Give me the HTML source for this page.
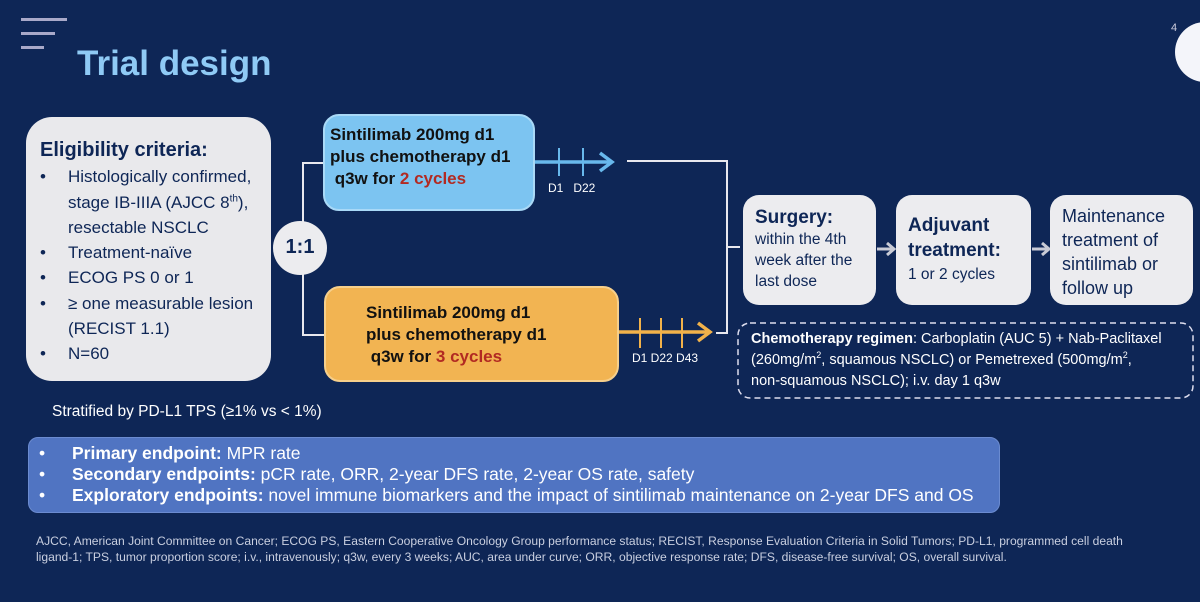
<!DOCTYPE html>
<html><head><meta charset="utf-8"><style>
*{margin:0;padding:0;box-sizing:border-box}
body{width:1200px;height:602px;background:#0e2656;font-family:"Liberation Sans",Arial,sans-serif;position:relative;overflow:hidden;color:#fff}
.a{position:absolute}
.box{position:absolute;border-radius:22px;background:#ececef;color:#0e2656}
.b{font-weight:bold}
sup{line-height:0;vertical-align:super}
</style></head><body>
<div class="a" style="left:21px;top:18px;width:46px;height:3px;background:#a9a9c9"></div>
<div class="a" style="left:21px;top:32px;width:34px;height:3px;background:#a9a9c9"></div>
<div class="a" style="left:21px;top:46px;width:23px;height:3px;background:#a9a9c9"></div>
<div class="a b" style="left:77px;top:44px;font-size:35px;color:#8fcaf5">Trial design</div>
<div class="a" style="left:1171px;top:22px;font-size:11px;color:#ccd">4</div>
<div class="a" style="left:1175px;top:22px;width:60px;height:60px;border-radius:50%;background:#f4f5fa"></div>

<div class="box" style="left:26px;top:117px;width:245px;height:264px;border-radius:26px;background:#e9e9ec;padding:21px 0 0 14px;font-size:17px;line-height:25.3px;color:#0e2656">
<div class="b" style="font-size:20px;margin-bottom:1px">Eligibility criteria:</div>
<div style="position:relative;padding-left:28px">
<span style="position:absolute;left:0">•</span>Histologically confirmed, stage IB-IIIA (AJCC 8<sup style="font-size:10px">th</sup>), resectable NSCLC</div>
<div style="position:relative;padding-left:28px"><span style="position:absolute;left:0">•</span>Treatment-naïve</div>
<div style="position:relative;padding-left:28px"><span style="position:absolute;left:0">•</span>ECOG PS 0 or 1</div>
<div style="position:relative;padding-left:28px"><span style="position:absolute;left:0">•</span>≥ one measurable lesion (RECIST 1.1)</div>
<div style="position:relative;padding-left:28px"><span style="position:absolute;left:0">•</span>N=60</div>
</div>

<svg class="a" style="left:0;top:0" width="1200" height="602">
<g stroke="#e8e8ee" stroke-width="2" fill="none">
<path d="M325 163 H303 V335 H325"/>
<path d="M627 161 H727 V333 H716 M727 247 H740"/>
</g>
<circle cx="300" cy="248" r="27" fill="#ececef"/>
<g stroke="#68b8ec" stroke-width="3.5" fill="none"><path d="M534 162 H610"/><path d="M600 153 L612 162 L600 171"/></g>
<g stroke="#68b8ec" stroke-width="2"><path d="M559 148 V176 M583 148 V176"/></g>
<g stroke="#f2b24a" stroke-width="3.5" fill="none"><path d="M618 332 H708"/><path d="M698 323 L710 332 L698 341"/></g>
<g stroke="#f2b24a" stroke-width="2"><path d="M640 318 V348 M661 318 V348 M682 318 V348"/></g>
<g stroke="#c9cbd6" stroke-width="3" fill="none"><path d="M877 249 H893 M887 243 L894 249 L887 255"/><path d="M1032 249 H1048 M1042 243 L1049 249 L1042 255"/></g>
<rect x="738" y="323" width="455" height="75" rx="12" fill="none" stroke="#dde" stroke-width="1.5" stroke-dasharray="6 4"/>
</svg>
<div class="a b" style="left:273px;top:236px;width:54px;text-align:center;font-size:20px;color:#0e2656">1:1</div>
<div class="a" style="left:548px;top:181px;font-size:12px;color:#fff">D1&nbsp;&nbsp; D22</div>
<div class="a" style="left:632px;top:351px;font-size:12px;color:#fff">D1 D22 D43</div>

<div class="box b" style="left:323px;top:114px;width:212px;height:97px;background:#7cc4f1;border:2px solid #a9d9f7;border-radius:16px;padding:8px 0 0 5px;font-size:17px;line-height:22px;color:#111">Sintilimab 200mg d1<br>plus chemotherapy d1<br>&nbsp;q3w for <span style="color:#b22a22">2 cycles</span></div>
<div class="box b" style="left:324px;top:286px;width:295px;height:96px;background:#f2b452;border:2px solid #f6cf8b;border-radius:16px;padding:14px 0 0 40px;font-size:17px;line-height:22px;color:#111">Sintilimab 200mg d1<br>plus chemotherapy d1<br>&nbsp;q3w for <span style="color:#b22a22">3 cycles</span></div>

<div class="box" style="left:743px;top:195px;width:133px;height:110px;border-radius:16px;padding:12px 0 0 12px;font-size:15.5px;line-height:21px"><span class="b" style="font-size:19px">Surgery:</span><br>within the 4th<br>week after the<br>last dose</div>
<div class="box" style="left:896px;top:195px;width:135px;height:110px;border-radius:16px;padding:18px 0 0 12px;font-size:15.5px;line-height:23px"><span class="b" style="font-size:19px;line-height:25px">Adjuvant<br>treatment:</span><br>1 or 2 cycles</div>
<div class="box" style="left:1050px;top:195px;width:143px;height:110px;border-radius:16px;padding:9px 0 0 12px;font-size:18px;line-height:24px">Maintenance<br>treatment of<br>sintilimab or<br>follow up</div>

<div class="a" style="left:751px;top:329px;font-size:14.5px;line-height:21px;color:#fff;white-space:nowrap"><b>Chemotherapy regimen</b>: Carboplatin (AUC 5) + Nab-Paclitaxel<br>(260mg/m<sup style="font-size:9px">2</sup>, squamous NSCLC) or Pemetrexed (500mg/m<sup style="font-size:9px">2</sup>,<br>non-squamous NSCLC); i.v. day 1 q3w</div>

<div class="a" style="left:52px;top:403px;font-size:15.5px;color:#fff">Stratified by PD-L1 TPS (≥1% vs &lt; 1%)</div>

<div class="a" style="left:28px;top:437px;width:972px;height:76px;border-radius:10px;background:#5074c2;border:1px solid #6b8bd0;padding:5px 0 0 10px;font-size:17.5px;line-height:21px;color:#fff;white-space:nowrap">
<div><span style="display:inline-block;width:33px">•</span><b>Primary endpoint:</b> MPR rate</div>
<div><span style="display:inline-block;width:33px">•</span><b>Secondary endpoints:</b> pCR rate, ORR, 2-year DFS rate, 2-year OS rate, safety</div>
<div><span style="display:inline-block;width:33px">•</span><b>Exploratory endpoints:</b> novel immune biomarkers and the impact of sintilimab maintenance on 2-year DFS and OS</div>
</div>

<div class="a" style="left:36px;top:533px;width:1160px;font-size:12.1px;line-height:16px;color:#c9cfe0;white-space:nowrap">AJCC, American Joint Committee on Cancer; ECOG PS, Eastern Cooperative Oncology Group performance status; RECIST, Response Evaluation Criteria in Solid Tumors; PD-L1, programmed cell death<br>ligand-1; TPS, tumor proportion score; i.v., intravenously; q3w, every 3 weeks; AUC, area under curve; ORR, objective response rate; DFS, disease-free survival; OS, overall survival.</div>
</body></html>
